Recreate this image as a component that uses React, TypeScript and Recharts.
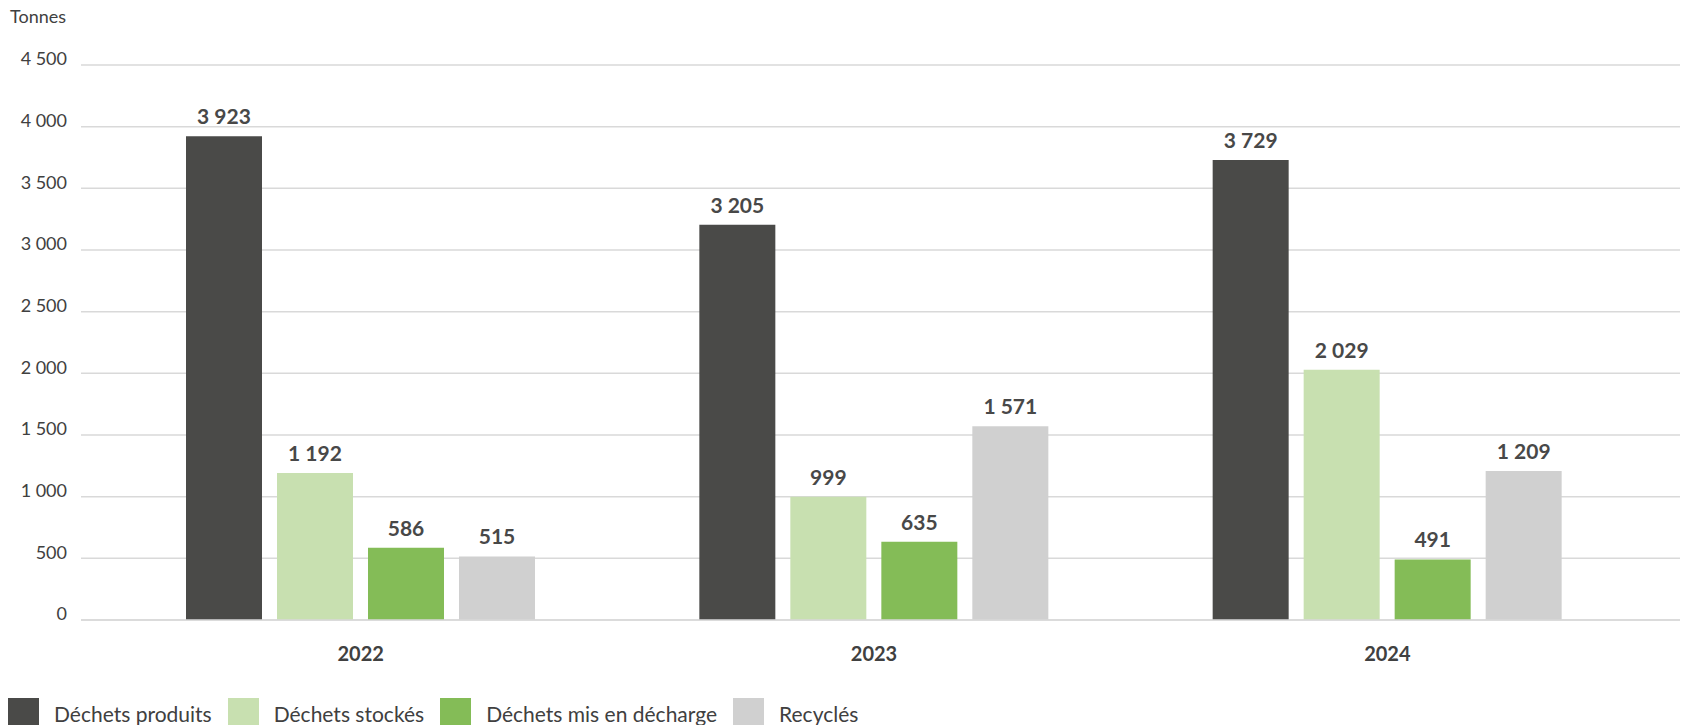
import React from 'react';
import { BarChart, Bar, XAxis, YAxis, CartesianGrid, LabelList } from 'recharts';

const years = ['2022', '2023', '2024'];
const produits = [3923, 3205, 3729];
const stockes = [1192, 999, 2029];
const decharge = [586, 635, 491];
const recycles = [515, 1571, 1209];
const yTicks = [0, 500, 1000, 1500, 2000, 2500, 3000, 3500, 4000, 4500];

const series = [
  { key: 'produits', name: 'Déchets produits', color: '#4a4a48' },
  { key: 'stockes', name: 'Déchets stockés', color: '#c8e0b0' },
  { key: 'decharge', name: 'Déchets mis en décharge', color: '#84bc57' },
  { key: 'recycles', name: 'Recyclés', color: '#d0d0d0' },
];

const data = years.map((y, i) => ({
  year: y,
  produits: produits[i],
  stockes: stockes[i],
  decharge: decharge[i],
  recycles: recycles[i],
}));

const fmt = (v: any) => String(v).replace(/\B(?=(\d{3})+(?!\d))/g, ' ');
const FONT = 'Lato, "Noto Sans", sans-serif';

export default function App() {
  return (
    <div style={{ position: 'absolute', left: 0, top: 0, width: 1685, height: 725, background: '#fff', fontFamily: FONT, overflow: 'hidden' }}>
      <div style={{ position: 'absolute', left: 10, top: 5, fontSize: 18, color: '#404040' }}>Tonnes</div>
      <BarChart
        width={1685}
        height={725}
        data={data}
        margin={{ top: 65, right: 5, left: 0, bottom: 0 }}
        barSize={76}
        barGap={15}
      >
        <CartesianGrid vertical={false} stroke="#d9d9d9" strokeWidth={1.5} />
        <XAxis
          dataKey="year"
          height={105}
          axisLine={{ stroke: '#d9d9d9', strokeWidth: 1.5 }}
          tickLine={false}
          tickSize={0}
          tickMargin={27}
          padding={{ left: 23, right: 36 }}
          tick={{ fill: '#404040', fontSize: 20, fontWeight: 700, fontFamily: FONT }}
        />
        <YAxis
          width={81}
          domain={[0, 4500]}
          ticks={yTicks}
          axisLine={false}
          tickLine={false}
          tickSize={0}
          tickMargin={14}
          tickFormatter={fmt}
          tick={{ fill: '#404040', fontSize: 18, fontFamily: FONT, dy: -6 }}
        />
        {series.map((s) => (
          <Bar key={s.key} dataKey={s.key} name={s.name} fill={s.color} isAnimationActive={false}>
            <LabelList
              dataKey={s.key}
              position="top"
              offset={12}
              formatter={fmt}
              style={{ fill: '#484848', fontSize: 21, fontWeight: 700, fontFamily: FONT }}
            />
          </Bar>
        ))}
      </BarChart>
      <div style={{ position: 'absolute', left: 8, top: 698, display: 'flex', alignItems: 'flex-start', fontSize: 21, color: '#404040', whiteSpace: 'nowrap' }}>
        {series.map((s) => (
          <div key={s.key} style={{ display: 'flex', alignItems: 'flex-start', marginRight: 16 }}>
            <div style={{ width: 31, height: 30, background: s.color, marginRight: 15 }} />
            <span style={{ lineHeight: '30px', marginTop: 1 }}>{s.name}</span>
          </div>
        ))}
      </div>
    </div>
  );
}
